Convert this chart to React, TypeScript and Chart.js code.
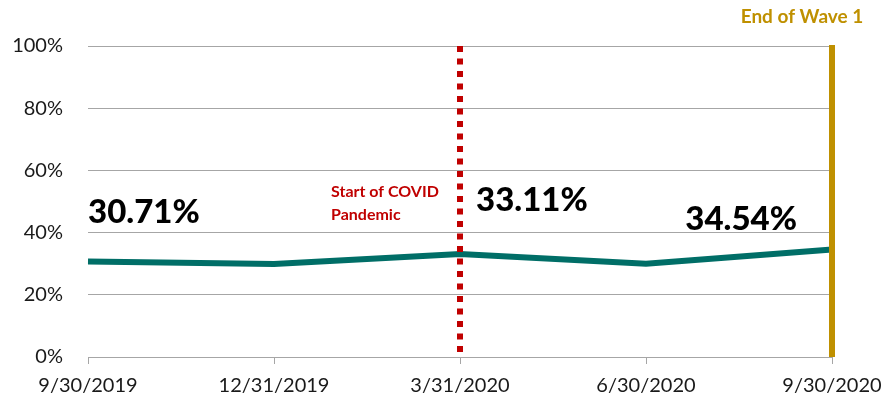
import { useEffect, useRef } from "react";
import { Chart, registerables } from "chart.js";

Chart.register(...registerables);

const categories = ["9/30/2019", "12/31/2019", "3/31/2020", "6/30/2020", "9/30/2020"];
const values = [30.71, 29.9, 33.11, 30.0, 34.54];
const yTickValues = [0, 20, 40, 60, 80, 100];
const labeledIndices = [0, 2, 4];
const covidIndex = 2;
const waveEndIndex = 4;
const covidLabel = ["Start of COVID", "Pandemic"];
const waveLabel = "End of Wave 1";

const FONT = "Lato, 'Open Sans', sans-serif";
const TEAL = "#006e67";
const RED = "#c00000";
const GOLD = "#bf9000";
const GRID = "#a6a6a6";
const TEXT = "#1a1a1a";

// label placement styles (relative to the data point)
const labelDx = [0, 16, -35];
const labelDy = [-49, -54, -30];
const labelAlign: CanvasTextAlign[] = ["left", "left", "right"];

const annotationPlugin = {
  id: "annotations",
  afterDatasetsDraw(chart: any) {
    const { ctx, chartArea, scales } = chart;
    const x = scales.x;
    const meta = chart.getDatasetMeta(0);
    ctx.save();

    // red dotted line
    const rx = x.getPixelForValue(covidIndex);
    ctx.beginPath();
    ctx.strokeStyle = RED;
    ctx.lineWidth = 6;
    ctx.setLineDash([6, 6.5]);
    ctx.moveTo(rx, chartArea.top);
    ctx.lineTo(rx, chartArea.bottom - 2);
    ctx.stroke();
    ctx.setLineDash([]);

    // gold solid line
    const gx = x.getPixelForValue(waveEndIndex);
    ctx.beginPath();
    ctx.strokeStyle = GOLD;
    ctx.lineWidth = 6;
    ctx.moveTo(gx, chartArea.top - 1);
    ctx.lineTo(gx, chartArea.bottom);
    ctx.stroke();

    // data labels
    ctx.fillStyle = "#000";
    ctx.font = `900 33px ${FONT}`;
    ctx.textBaseline = "middle";
    labeledIndices.forEach((idx, i) => {
      const pt = meta.data[idx];
      ctx.textAlign = labelAlign[i];
      ctx.fillText(values[idx].toFixed(2) + "%", pt.x + labelDx[i], pt.y + labelDy[i]);
    });

    // covid text
    ctx.fillStyle = RED;
    ctx.font = `bold 16px ${FONT}`;
    ctx.textAlign = "left";
    ctx.fillText(covidLabel[0], rx - 129, 192);
    ctx.fillText(covidLabel[1], rx - 129, 215);

    // wave text
    ctx.fillStyle = GOLD;
    ctx.font = `bold 19px ${FONT}`;
    ctx.textAlign = "center";
    ctx.fillText(waveLabel, gx - 30, 17);

    ctx.restore();
  },
};

export default function App() {
  const ref = useRef<HTMLCanvasElement>(null);
  useEffect(() => {
    document.body.style.margin = "0";
    const chart = new Chart(ref.current!, {
      type: "line",
      data: {
        labels: categories,
        datasets: [
          {
            data: values,
            borderColor: TEAL,
            borderWidth: 6,
            pointRadius: 0,
            tension: 0,
            fill: false,
          },
        ],
      },
      options: {
        responsive: false,
        animation: false,
        layout: { padding: { top: 46, right: 54, left: 0, bottom: 0 } },
        plugins: { legend: { display: false }, tooltip: { enabled: false } },
        scales: {
          x: {
            type: "category",
            offset: false,
            grid: { drawOnChartArea: false, drawTicks: true, tickLength: 7, color: GRID },
            border: { display: true, color: GRID, width: 1 },
            ticks: {
              font: { family: FONT, size: 20 },
              color: TEXT,
              padding: 10,
              maxRotation: 0,
              autoSkip: false,
            },
            afterFit: (s: any) => {
              s.height = 44;
              s.paddingLeft = 0;
              s.paddingRight = 0;
            },
          },
          y: {
            min: 0,
            max: 100,
            afterBuildTicks: (s: any) => {
              s.ticks = yTickValues.map((v) => ({ value: v }));
            },
            grid: { color: GRID, drawTicks: false, lineWidth: 1 },
            border: { display: false },
            ticks: {
              font: { family: FONT, size: 20 },
              color: TEXT,
              padding: 25,
              callback: (v: any) => v + "%",
            },
            afterFit: (s: any) => {
              s.width = 88;
              s.paddingTop = 0;
              s.paddingBottom = 0;
            },
          },
        },
      },
      plugins: [annotationPlugin],
    });
    return () => chart.destroy();
  }, []);
  return (
    <div style={{ position: "fixed", left: 0, top: 0, width: 886, height: 401, background: "#fff" }}>
      <canvas ref={ref} width={886} height={401} style={{ display: "block" }} />
    </div>
  );
}
